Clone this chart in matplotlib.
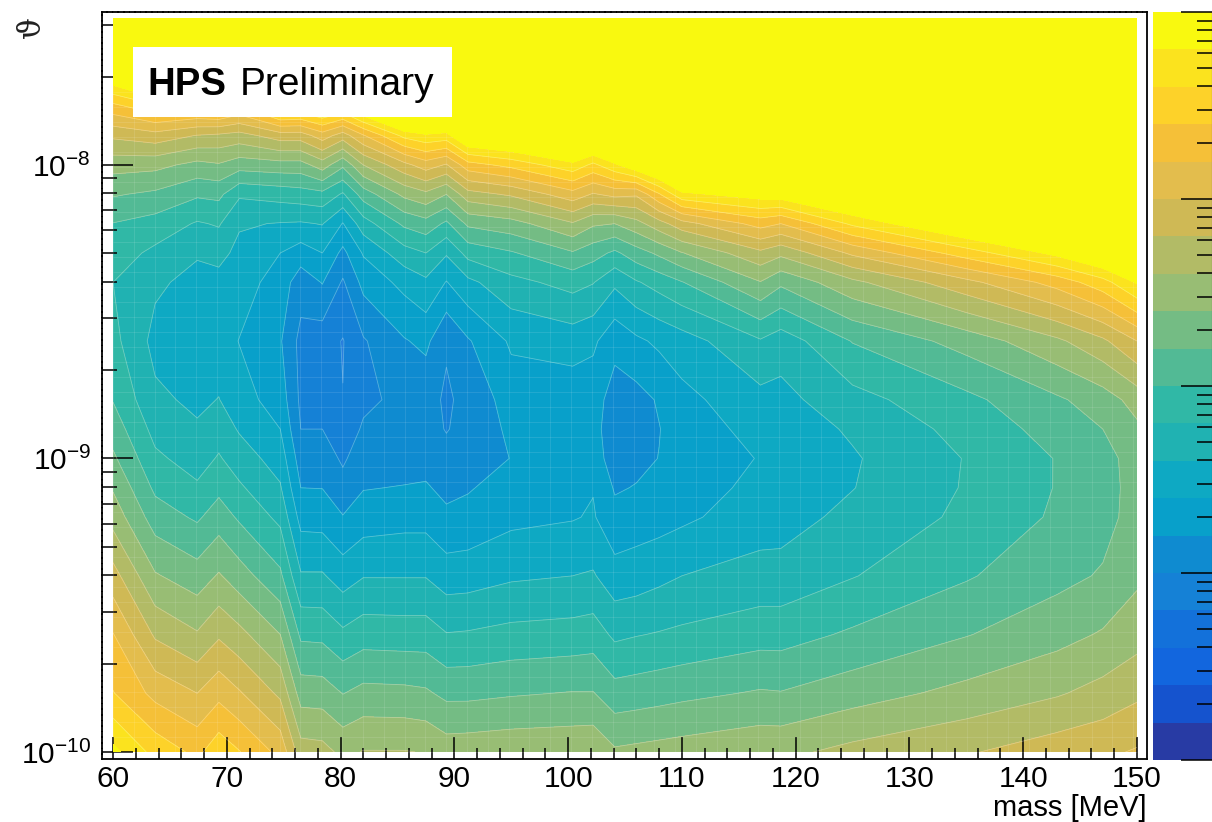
import numpy as np
import matplotlib
matplotlib.use("Agg")
import matplotlib.pyplot as plt
from matplotlib.patches import Rectangle
from matplotlib.ticker import FixedLocator, FuncFormatter, NullFormatter

plt.rcParams["font.family"] = ["Liberation Sans", "DejaVu Sans"]
plt.rcParams["mathtext.fontset"] = "custom"
plt.rcParams["mathtext.rm"] = "Liberation Sans"
plt.rcParams["mathtext.default"] = "regular"

W, H = 1212, 822

mass = [60, 63.7, 67.4, 69.3, 71.1, 74.7, 76.5, 78.4, 80.2, 82, 85.6, 87.5, 89.3,
        91.2, 95, 100.4, 102.2, 104.1, 106, 108, 110, 116.9, 118.7, 125, 135, 143, 147, 150]
log_eps = [-10, -9.8, -9.6, -9.4, -9.2, -9.1, -9.0, -8.9, -8.8, -8.6, -8.4, -8.3, -8.2, -8.1,
           -8.0, -7.9, -7.8, -7.7, -7.5]

z_by_mass = [
    [19.3, 17.05, 16.05, 14.4, 12.6, 11.9, 11.18, 10.55, 9.95, 9.3, 9.0, 9.5, 9.97, 11.1, 12.4, 14.2, 16.7, 19.9, 30],
    [17.65, 15.7, 13.85, 12.1, 10.5, 9.8, 9.2, 8.67, 8.2, 7.7, 8.17, 8.77, 9.6, 10.8, 12.3, 14.6, 17.75, 22, 30],
    [16.75, 15, 13.1, 11.45, 9.85, 9.15, 8.55, 8.12, 7.8, 7.4, 7.7, 8.1, 8.9, 10.15, 11.7, 13.95, 17.5, 22, 30],
    [17.65, 15.7, 13.85, 12.1, 10.5, 9.75, 9.1, 8.55, 8.03, 7.45, 7.7, 8.28, 9.1, 10.25, 11.9, 13.8, 17.8, 22, 30],
    [17.05, 15.1, 13.3, 11.45, 9.85, 9.15, 8.5, 7.9, 7.4, 6.97, 7.47, 7.75, 8.1, 9.15, 11.45, 13.6, 17, 22, 30],
    [15.7, 13.8, 12, 10.2, 8.75, 8.1, 7.55, 7.0, 6.55, 6.1, 6.55, 7, 7.95, 9.4, 11.6, 14.5, 19.2, 24, 32],
    [13.45, 11.55, 9.8, 8.1, 6.65, 6.0, 5.5, 5.0, 4.8, 4.7, 5.45, 6.5, 7.9, 9.55, 11.6, 14.5, 19, 24, 32],
    [13.35, 11.5, 9.75, 8.1, 6.6, 5.98, 5.5, 5.0, 4.7, 4.45, 6.05, 7, 8.05, 9.7, 12.5, 15.5, 19.7, 24, 32],
    [12.75, 10.97, 9.2, 7.53, 6.05, 5.35, 4.85, 4.3, 4.02, 3.95, 4.88, 5.73, 6.95, 8.87, 11.2, 14.5, 19, 24, 32],
    [13.05, 11.3, 9.55, 7.95, 6.5, 5.95, 5.55, 5.15, 4.75, 4.9, 6.3, 7.1, 8.55, 10.45, 13, 15.9, 20.5, 25, 33],
    [13.05, 11.25, 9.5, 7.95, 6.65, 6.05, 5.55, 5.35, 5.3, 5.92, 7.3, 8.6, 10.2, 12.25, 14.7, 18.3, 23, 28, 36],
    [12.95, 11.15, 9.5, 7.95, 6.65, 6.1, 5.65, 5.35, 5.25, 6.25, 7.8, 9, 10.6, 12.75, 15.5, 18.8, 23, 28, 36],
    [12.55, 10.75, 9.05, 7.5, 6.2, 5.75, 5.3, 4.95, 4.9, 5.08, 6.95, 8.1, 9.8, 12, 14.9, 18.6, 22.5, 27, 35],
    [12.6, 10.75, 9.1, 7.55, 6.3, 5.92, 5.6, 5.3, 5.2, 5.9, 7.75, 9.35, 11.2, 13.6, 16.6, 20.5, 24, 28, 36],
    [12.7, 10.9, 9.3, 7.85, 6.75, 6.4, 6.02, 6.2, 6.5, 7.15, 8.7, 9.9, 11.6, 14.15, 17.3, 21, 25, 29, 37],
    [12.75, 11.05, 9.4, 8, 6.93, 6.5, 6.2, 6.2, 6.4, 7.45, 9.35, 10.9, 12.9, 15.6, 18.7, 22, 26, 30, 38],
    [12.8, 11.05, 9.5, 8.1, 7.1, 6.95, 6.4, 6.3, 6.4, 7.2, 9.05, 10.4, 12.15, 14.9, 17.75, 21.5, 26, 30, 38],
    [12.15, 10.4, 8.8, 7.4, 6.3, 5.9, 5.6, 5.5, 5.6, 6.28, 8.2, 9.8, 12, 15.3, 18.8, 22, 26, 30, 38],
    [12.25, 10.5, 8.95, 7.5, 6.5, 6.05, 5.75, 5.6, 5.65, 6.8, 8.9, 10.55, 12.65, 15.15, 19.9, 23, 27, 31, 39],
    [12.35, 10.62, 9.07, 7.75, 6.6, 6.25, 6.02, 5.97, 6.1, 7.2, 9.4, 11.2, 13.6, 16.9, 21, 24, 28, 32, 40],
    [12.45, 10.75, 9.2, 8, 6.8, 6.55, 6.4, 6.45, 6.7, 7.55, 9.95, 11.95, 14.6, 18.75, 22, 25, 29, 33, 41],
    [12.75, 11.1, 9.6, 8.35, 7.55, 7.25, 7.05, 7.35, 7.7, 8.9, 11.95, 13.75, 16.4, 19.5, 23, 27, 31, 35, 43],
    [12.75, 11.05, 9.6, 8.35, 7.6, 7.42, 7.3, 7.45, 7.7, 8.45, 11.2, 13.25, 16, 19.6, 23, 27, 31, 35, 43],
    [13.3, 11.55, 10.15, 8.95, 8.27, 7.97, 7.9, 8.13, 8.65, 10.05, 12.75, 15.2, 18.2, 21, 24, 28, 32, 36, 44],
    [13.9, 12.3, 10.95, 9.9, 9.2, 9.08, 9.05, 9.35, 9.75, 11.4, 14.7, 17.5, 20.5, 23, 26, 30, 34, 38, 46],
    [14.55, 12.9, 11.65, 10.7, 10.15, 10.05, 10.05, 10.4, 10.85, 12.8, 16.4, 19.3, 22, 25, 28, 32, 36, 40, 48],
    [14.8, 13.35, 12.1, 11.1, 10.65, 10.6, 10.62, 11.0, 11.5, 13.8, 17.6, 20.5, 23.5, 26.5, 29.5, 33.5, 37.5, 41.5, 49.5],
    [15.1, 13.8, 12.6, 11.8, 11.4, 11.38, 11.45, 11.8, 12.4, 15, 19.1, 22, 25, 28, 31, 35, 39, 43, 51],
]

band_colors = ["#283BA4", "#1553CE", "#1266DE", "#1371DA", "#1581D6", "#0F8BD0", "#08A0CA",
               "#0EA9C3", "#20B2B2", "#30B8A6", "#52BA95", "#74BC84", "#98BD74", "#B2BB66",
               "#CFB955", "#E3BD4D", "#F5C038", "#FDD229", "#FBE31E", "#F9F90F"]
levels = list(range(20)) + [60]

x_major = list(range(60, 151, 10))
x_minor = list(range(60, 151, 2))
y_major = [-10, -9, -8]
y_minor = [d + np.log10(k) for d in (-10, -9, -8) for k in range(2, 10)]

z = np.array(z_by_mass).T

fig = plt.figure(figsize=(W / 100, H / 100), dpi=100)
ax = fig.add_axes([102 / W, 1 - 759 / H, (1147 - 102) / W, (759 - 12) / H])

ax.contourf(mass, log_eps, z, levels=levels, colors=band_colors, zorder=1)
ax.contour(mass, log_eps, z, levels=levels[1:-1], colors="white", linewidths=0.6, alpha=0.3, zorder=2)

# the faint seams of the filled cells
ax.vlines(np.arange(60, 150, 1.83), -10, -7.5, color="white", lw=0.8, alpha=0.1, zorder=2)
ax.hlines(np.arange(-10, -7.5, 0.0511), 60, 150, color="white", lw=0.8, alpha=0.1, zorder=2)
ax.contourf(mass, log_eps, z, levels=levels[-2:], colors=band_colors[-1:], zorder=3)

ax.set_xlim(59.03, 150.88)
ax.set_ylim(-10.024, -7.479)

ax.xaxis.set_major_locator(FixedLocator(x_major))
ax.xaxis.set_minor_locator(FixedLocator(x_minor))
ax.yaxis.set_major_locator(FixedLocator(y_major))
ax.yaxis.set_minor_locator(FixedLocator(y_minor))
ax.yaxis.set_major_formatter(FuncFormatter(lambda v, p: "$10^{%d}$" % round(v)))
ax.yaxis.set_minor_formatter(NullFormatter())

ax.tick_params(axis="x", which="major", direction="in", length=16, width=1.1, labelsize=21.5, pad=4, zorder=6)
ax.tick_params(axis="x", which="minor", direction="in", length=8, width=1.1, zorder=6)
ax.tick_params(axis="y", which="major", direction="in", length=22, width=1.1, labelsize=21.5, pad=8, zorder=6)
ax.tick_params(axis="y", which="minor", direction="in", length=11, width=1.1, zorder=6)

for name, spine in ax.spines.items():
    spine.set_linewidth(1.3)
    spine.set_color("black")
ax.spines["top"].set_linestyle((0, (2.5, 0.6)))
ax.spines["left"].set_linestyle((0, (2.5, 0.6)))

ax.add_patch(Rectangle((133 / W, 1 - 117 / H), (452 - 133) / W, 70 / H, transform=fig.transFigure,
                       facecolor="white", edgecolor="none", zorder=7))
fig.text(147 / W, 1 - 95 / H, "HPS", fontsize=27.6, fontweight="bold", color="black", zorder=8)
fig.text(240 / W, 1 - 95 / H, "Preliminary", fontsize=28, color="black", zorder=8)
fig.text(1147 / W, 1 - 816 / H, "mass [MeV]", fontsize=21, ha="right", color="black")
fig.text(31 / W, 1 - 27 / H, "\u03d1", fontsize=22, rotation=90, ha="center", va="center",
         family="DejaVu Serif", color="#222222")

# colour scale, four decades in twenty bands
cax = fig.add_axes([1153 / W, 1 - 760 / H, (W - 1153) / W, (760 - 12) / H])
edges = np.logspace(0, 4, 21)
for k, c in enumerate(band_colors):
    cax.axhspan(edges[k], edges[k + 1], color=c, lw=0)
cax.set_yscale("log")
cax.set_ylim(1, 1e4)
cax.set_xlim(0, 1)
cax.set_xticks([])
cax.yaxis.tick_right()
cax.set_yticks([1, 10, 100, 1000, 10000])
cax.set_yticks([m * d for d in (1, 10, 100, 1000) for m in range(2, 10)], minor=True)
cax.yaxis.set_major_formatter(NullFormatter())
cax.yaxis.set_minor_formatter(NullFormatter())
cax.tick_params(axis="y", which="major", direction="in", length=22, width=1.1)
cax.tick_params(axis="y", which="minor", direction="in", length=11, width=1.1)
for name in ("top", "bottom", "left"):
    cax.spines[name].set_visible(False)
cax.spines["right"].set_linewidth(0.8)
cax.spines["right"].set_color("#444444")

fig.savefig("out.png", dpi=100)
